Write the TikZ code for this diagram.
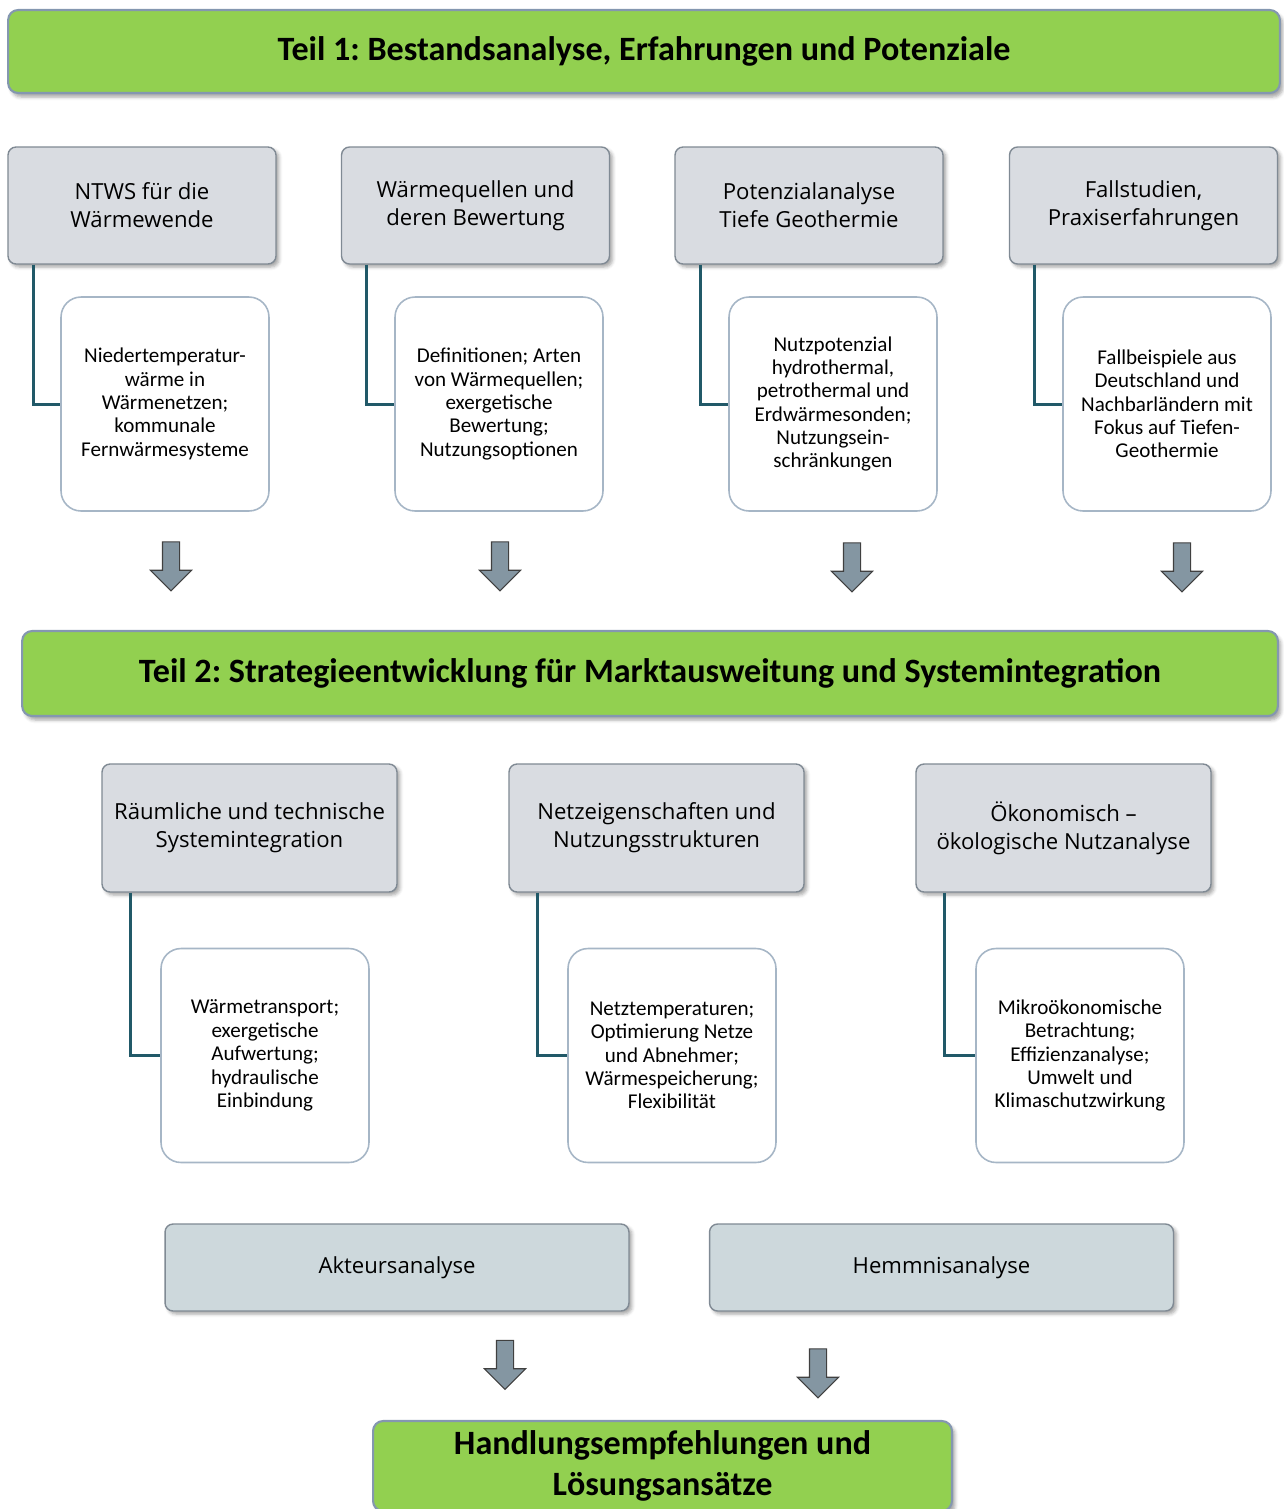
\documentclass[tikz,border=0pt]{standalone}
\usepackage{fontspec}
\setmainfont{Carlito}
\newfontfamily\headfont{Open Sans}
\usepackage{tikz}
\usetikzlibrary{positioning,shapes.arrows,shadows.blur}
\definecolor{bargreen}{RGB}{146,208,80}
\definecolor{barline}{RGB}{132,151,176}
\definecolor{headgray}{RGB}{217,220,225}
\definecolor{headline}{RGB}{128,138,148}
\definecolor{boxline}{RGB}{166,182,198}
\definecolor{linkteal}{RGB}{33,89,104}
\definecolor{arrowgray}{RGB}{132,150,162}
\definecolor{tailgray}{RGB}{205,216,220}
\frenchspacing
\tikzset{
  bar/.style={draw=barline, line width=1.2pt, fill=bargreen, rounded corners=0.2cm,
              font=\fontsize{19.4}{23.3}\selectfont\bfseries, align=center,
              blur shadow={shadow xshift=0.06cm, shadow yshift=-0.08cm, shadow opacity=35}},
  headbox/.style={draw=headline, line width=0.8pt, fill=headgray, rounded corners=0.16cm,
              minimum width=5.36cm, minimum height=2.34cm, align=center,
              font=\headfont\fontsize{12.6}{15.9}\selectfont,
              blur shadow={shadow xshift=0.06cm, shadow yshift=-0.06cm, shadow opacity=35}},
  bighead/.style={headbox, minimum width=5.9cm, minimum height=2.56cm},
  infobox/.style={draw=boxline, line width=0.9pt, fill=white, rounded corners=0.4cm,
              minimum width=4.16cm, minimum height=4.28cm, align=center,
              font=\fontsize{12}{13.3}\selectfont},
  tailbox/.style={headbox, fill=tailgray, minimum width=9.28cm, minimum height=1.74cm},
  link/.style={draw=linkteal, line width=1.7pt},
  down/.style={single arrow, draw=black!75, fill=arrowgray, line width=0.6pt,
              shape border rotate=270, minimum height=0.98cm, minimum width=0.8cm,
              single arrow head extend=0.24cm, inner sep=0.16cm}
}
\begin{document}
\begin{tikzpicture}[x=0.02cm, y=-0.02cm]
  \useasboundingbox (0,0) rectangle (1284,1509);
  % Teil 1
  \node[bar, minimum width=25.44cm, minimum height=1.66cm] (teil1) at (644,51.5)
    {Teil 1: Bestandsanalyse, Erfahrungen und Potenziale};
  \node[headbox] (ntws) at (142,205.5) {NTWS für die\\Wärmewende};
  \node[headbox] (quellen) at (475.5,205.5) {Wärmequellen und\\deren Bewertung};
  \node[headbox] (potenzial) at (809,205.5) {Potenzialanalyse\\Tiefe Geothermie};
  \node[headbox] (fall) at (1143.5,205.5) {Fallstudien,\\Praxiserfahrungen};
  \node[infobox] (ntwsinfo) at (165,404)
    {Niedertemperatur-\\wärme in\\Wärmenetzen;\\kommunale\\Fernwärmesysteme};
  \node[infobox] (quelleninfo) at (499,404)
    {Definitionen; Arten\\von Wärmequellen;\\exergetische\\Bewertung;\\Nutzungsoptionen};
  \node[infobox] (potenzialinfo) at (833,404)
    {Nutzpotenzial\\hydrothermal,\\petrothermal und\\Erdwärmesonden;\\Nutzungsein-\\schränkungen};
  \node[infobox] (fallinfo) at (1167,404)
    {Fallbeispiele aus\\Deutschland und\\Nachbarländern mit\\Fokus auf Tiefen-\\Geothermie};
  \draw[link] ([xshift=0.52cm]ntws.south west) |- (ntwsinfo.west);
  \draw[link] ([xshift=0.52cm]quellen.south west) |- (quelleninfo.west);
  \draw[link] ([xshift=0.52cm]potenzial.south west) |- (potenzialinfo.west);
  \draw[link] ([xshift=0.52cm]fall.south west) |- (fallinfo.west);
  \node[down] (d1) at (171,562) {};
  \node[down] (d2) at (500,562) {};
  \node[down] (d3) at (852,563) {};
  \node[down] (d4) at (1182,563) {};
  % Teil 2
  \node[bar, minimum width=25.12cm, minimum height=1.7cm] (teil2) at (650,673.5)
    {Teil 2: Strategieentwicklung für Marktausweitung und Systemintegration};
  \node[bighead] (raum) at (249.5,828) {Räumliche und technische\\Systemintegration};
  \node[bighead] (netz) at (656.5,828) {Netzeigenschaften und\\Nutzungsstrukturen};
  \node[bighead] (oeko) at (1063.5,828) {Ökonomisch –\\ökologische Nutzanalyse};
  \node[infobox] (rauminfo) at (265,1055.5)
    {Wärmetransport;\\exergetische\\Aufwertung;\\hydraulische\\Einbindung};
  \node[infobox] (netzinfo) at (672,1055.5)
    {Netztemperaturen;\\Optimierung Netze\\und Abnehmer;\\Wärmespeicherung;\\Flexibilität};
  \node[infobox] (oekoinfo) at (1080,1055.5)
    {Mikroökonomische\\Betrachtung;\\Effizienzanalyse;\\Umwelt und\\Klimaschutzwirkung};
  \draw[link] ([xshift=0.58cm]raum.south west) |- (rauminfo.west);
  \draw[link] ([xshift=0.58cm]netz.south west) |- (netzinfo.west);
  \draw[link] ([xshift=0.58cm]oeko.south west) |- (oekoinfo.west);
  \node[tailbox] (akteur) at (397,1267.5) {Akteursanalyse};
  \node[tailbox] (hemmnis) at (941.5,1267.5) {Hemmnisanalyse};
  \node[down] (d5) at (505,1360.5) {};
  \node[down] (d6) at (818,1369) {};
  % Ergebnis
  \node[bar, minimum width=11.58cm, minimum height=1.8cm] (ergebnis) at (662.5,1466)
    {Handlungsempfehlungen und\\Lösungsansätze};
\end{tikzpicture}
\end{document}
